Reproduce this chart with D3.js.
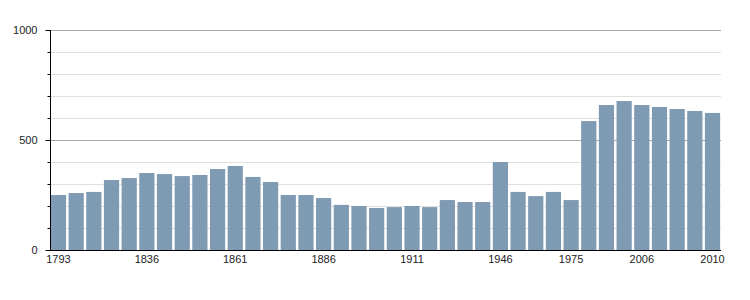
<!DOCTYPE html>
<html>
<head>
<meta charset="utf-8">
<script src="https://cdn.jsdelivr.net/npm/d3@7"></script>
<style>
  body { margin: 0; background: #fff; }
  svg text { font-family: "Liberation Sans", Arial, sans-serif; font-size: 11px; fill: #222; }
</style>
</head>
<body>
<div id="chart"></div>
<script>
const WIDTH = 750, HEIGHT = 300;
const LEFT = 50, RIGHT = 721, TOP = 30, BOTTOM = 250;

// census years and population
const years = [1793, 1800, 1806, 1821, 1831, 1836, 1841, 1846, 1851, 1856,
    1861, 1866, 1872, 1876, 1881, 1886, 1891, 1896, 1901, 1906,
    1911, 1921, 1926, 1931, 1936, 1946, 1954, 1962, 1968, 1975,
    1982, 1990, 1999, 2006, 2007, 2008, 2009, 2010];
const population = [250, 259, 264, 318, 327, 350, 345, 336, 341, 368,
    382, 332, 309, 250, 250, 236, 205, 200, 191, 195,
    200, 195, 227, 218, 218, 400, 264, 245, 264, 227,
    586, 659, 677, 659, 650, 641, 632, 623];
const xLabels = [1793, 1836, 1861, 1886, 1911, 1946, 1975, 2006, 2010];
const majorTicks = [0, 500, 1000];
const minorTicks = [100, 200, 300, 400, 600, 700, 800, 900];

const svg = d3.select("#chart").append("svg")
    .attr("width", WIDTH)
    .attr("height", HEIGHT)

const x = d3.scaleBand()
    .domain(years)
    .range([LEFT, RIGHT])
    .paddingInner(0.14)
    .paddingOuter(0.05);
const y = d3.scaleLinear()
    .domain([0, 1000])
    .range([BOTTOM, TOP]);

// grid
svg.append("g").selectAll("line").data(minorTicks).join("line")
    .attr("x1", LEFT).attr("x2", RIGHT)
    .attr("y1", d => y(d) + 0.5).attr("y2", d => y(d) + 0.5)
    .attr("stroke", "#e0e0e0");
svg.append("g").selectAll("line").data(majorTicks.filter(d => d > 0)).join("line")
    .attr("x1", LEFT).attr("x2", RIGHT)
    .attr("y1", d => y(d) + 0.5).attr("y2", d => y(d) + 0.5)
    .attr("stroke", "#aaa");

// bars
svg.append("g").selectAll("rect").data(years).join("rect")
    .attr("x", d => x(d))
    .attr("width", x.bandwidth())
    .attr("y", (d, i) => y(population[i]))
    .attr("height", (d, i) => y(0) - y(population[i]))
    .attr("fill", "#7f9ab3");

// y axis
const yAxis = svg.append("g").attr("transform", `translate(${LEFT + 0.5},0)`);
yAxis.append("line").attr("y1", TOP).attr("y2", BOTTOM + 0.5).attr("stroke", "#000");
yAxis.selectAll(".minor").data(minorTicks).join("line")
    .attr("x1", -3).attr("x2", 0)
    .attr("y1", d => y(d) + 0.5).attr("y2", d => y(d) + 0.5)
    .attr("stroke", "#000");
yAxis.selectAll(".major").data(majorTicks).join("line")
    .attr("x1", -5).attr("x2", 0)
    .attr("y1", d => y(d) + 0.5).attr("y2", d => y(d) + 0.5)
    .attr("stroke", "#000");
yAxis.selectAll("text").data(majorTicks).join("text")
    .attr("x", -13)
    .attr("y", d => y(d) + 4)
    .attr("text-anchor", "end")
    .text(d => d);

// x axis
svg.append("line")
    .attr("x1", LEFT).attr("x2", RIGHT)
    .attr("y1", BOTTOM + 0.5).attr("y2", BOTTOM + 0.5)
    .attr("stroke", "#000");
svg.append("g").selectAll("text").data(xLabels).join("text")
    .attr("x", d => x(d) + x.bandwidth() / 2)
    .attr("y", BOTTOM + 13)
    .attr("text-anchor", "middle")
    .text(d => d);
</script>
</body>
</html>
